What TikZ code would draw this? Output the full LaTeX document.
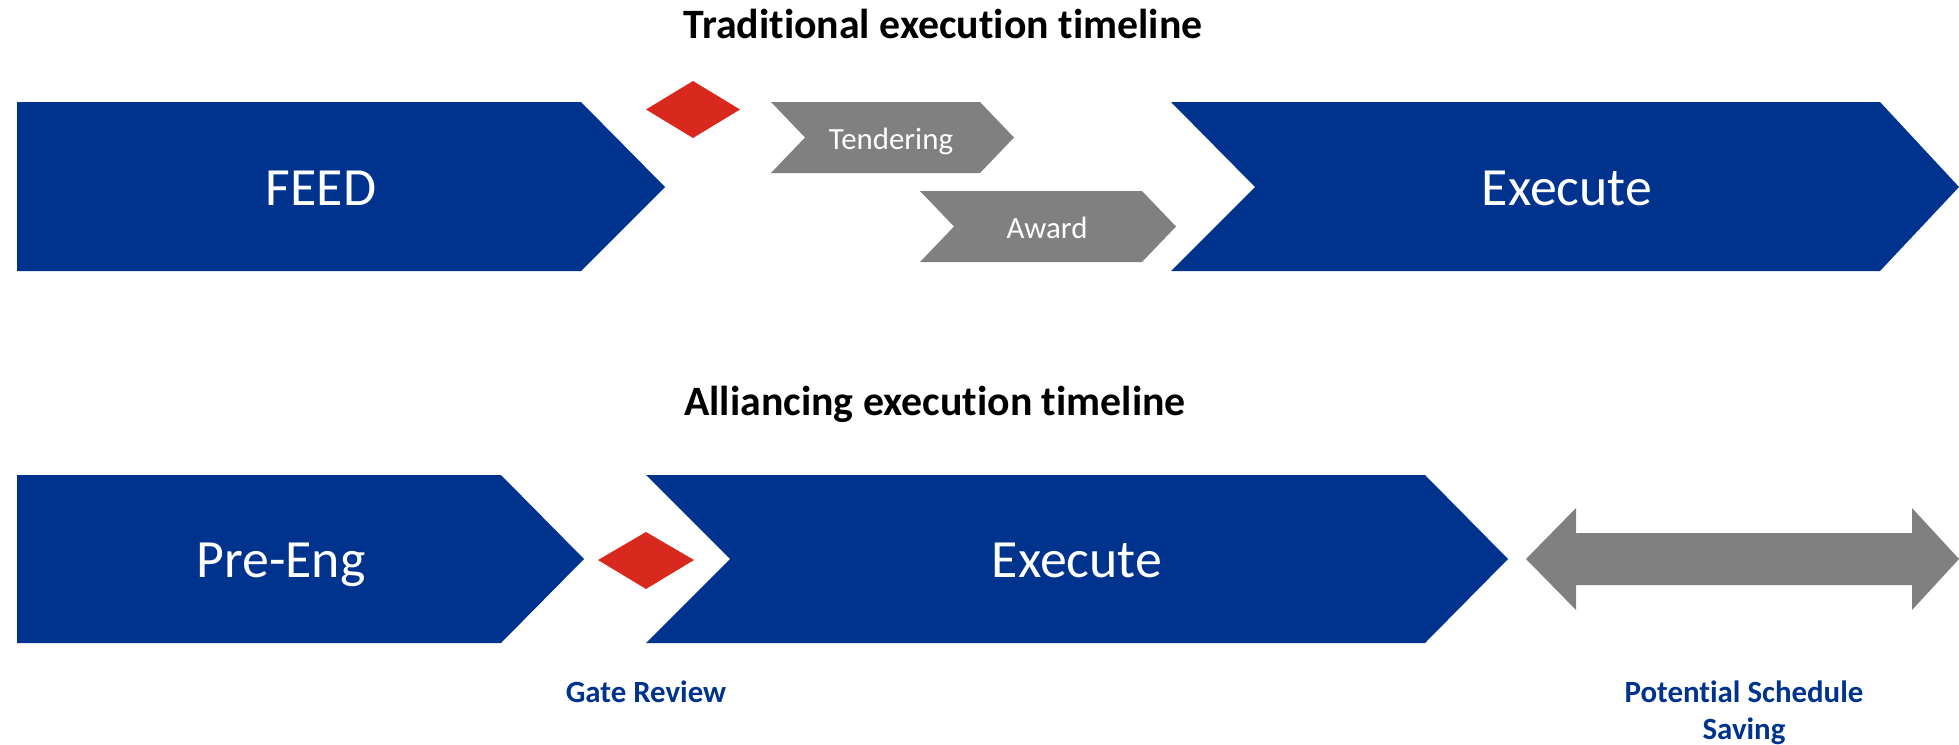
\documentclass[tikz,border=0pt]{standalone}
\usepackage{fontspec}
\setmainfont{Carlito}[Ligatures=NoCommon]
\usepackage{tikz}

\definecolor{phaseblue}{RGB}{0,51,141}
\definecolor{stepgrey}{RGB}{128,128,128}
\definecolor{gatered}{RGB}{217,41,30}

\begin{document}
\begin{tikzpicture}[x=1bp, y=-1bp,
    bigtxt/.style={text=white, anchor=base, inner sep=0pt, font=\fontsize{54}{60}\selectfont},
    smalltxt/.style={text=white, anchor=base, inner sep=0pt, font=\fontsize{31}{36}\selectfont},
    titletxt/.style={text=black, anchor=base, inner sep=0pt, font=\bfseries\fontsize{42}{48}\selectfont},
    notetxt/.style={text=phaseblue, anchor=base, inner sep=0pt, align=center, font=\bfseries\fontsize{31}{37}\selectfont}]
  \useasboundingbox (0, 0) rectangle (1959, 745);
  % Titles
  \node [titletxt] (tradtitle) at (943, 39) {Traditional execution timeline};
  \node [titletxt] (alliancetitle) at (935, 415) {Alliancing execution timeline};
  % Traditional phases
  \fill [phaseblue] (17, 102) -- (581, 102) -- (665, 187) -- (581, 271) -- (17, 271) -- cycle;
  \fill [phaseblue] (1171, 102) -- (1880, 102) -- (1959, 187) -- (1880, 271) -- (1171, 271) -- (1255, 187) -- cycle;
  \fill [stepgrey] (771, 102) -- (980, 102) -- (1014, 137.5) -- (980, 173) -- (771, 173) -- (805, 137.5) -- cycle;
  \fill [stepgrey] (920, 191) -- (1142, 191) -- (1176, 226.5) -- (1142, 262) -- (920, 262) -- (954, 226.5) -- cycle;
  \fill [gatered] (646, 109.5) -- (693, 81) -- (740, 109.5) -- (693, 138) -- cycle;
  % Traditional labels
  \node [bigtxt] (feed) at (321, 205) {FEED};
  \node [bigtxt] (execone) at (1567, 205) {Execute};
  \node [smalltxt] (tender) at (891, 149) {Tendering};
  \node [smalltxt] (award) at (1047, 238) {Award};
  % Alliancing phases
  \fill [phaseblue] (17, 475) -- (501, 475) -- (584, 559) -- (501, 643) -- (17, 643) -- cycle;
  \fill [phaseblue] (646, 475) -- (1425, 475) -- (1508, 559) -- (1425, 643) -- (646, 643) -- (730, 559) -- cycle;
  \fill [gatered] (598, 560) -- (646, 532) -- (694, 560) -- (646, 589) -- cycle;
  % Schedule saving arrow
  \fill [stepgrey] (1526, 559) -- (1576, 508) -- (1576, 533) -- (1912, 533) -- (1912, 508) -- (1959, 559)
    -- (1912, 610) -- (1912, 585) -- (1576, 585) -- (1576, 610) -- cycle;
  % Alliancing labels
  \node [bigtxt] (preeng) at (281, 577) {Pre-Eng};
  \node [bigtxt] (exectwo) at (1077, 577) {Execute};
  \node [notetxt] (gate) at (646, 702) {Gate Review};
  \node [notetxt] (saving) at (1744, 739) {Potential Schedule\\Saving};
\end{tikzpicture}
\end{document}
